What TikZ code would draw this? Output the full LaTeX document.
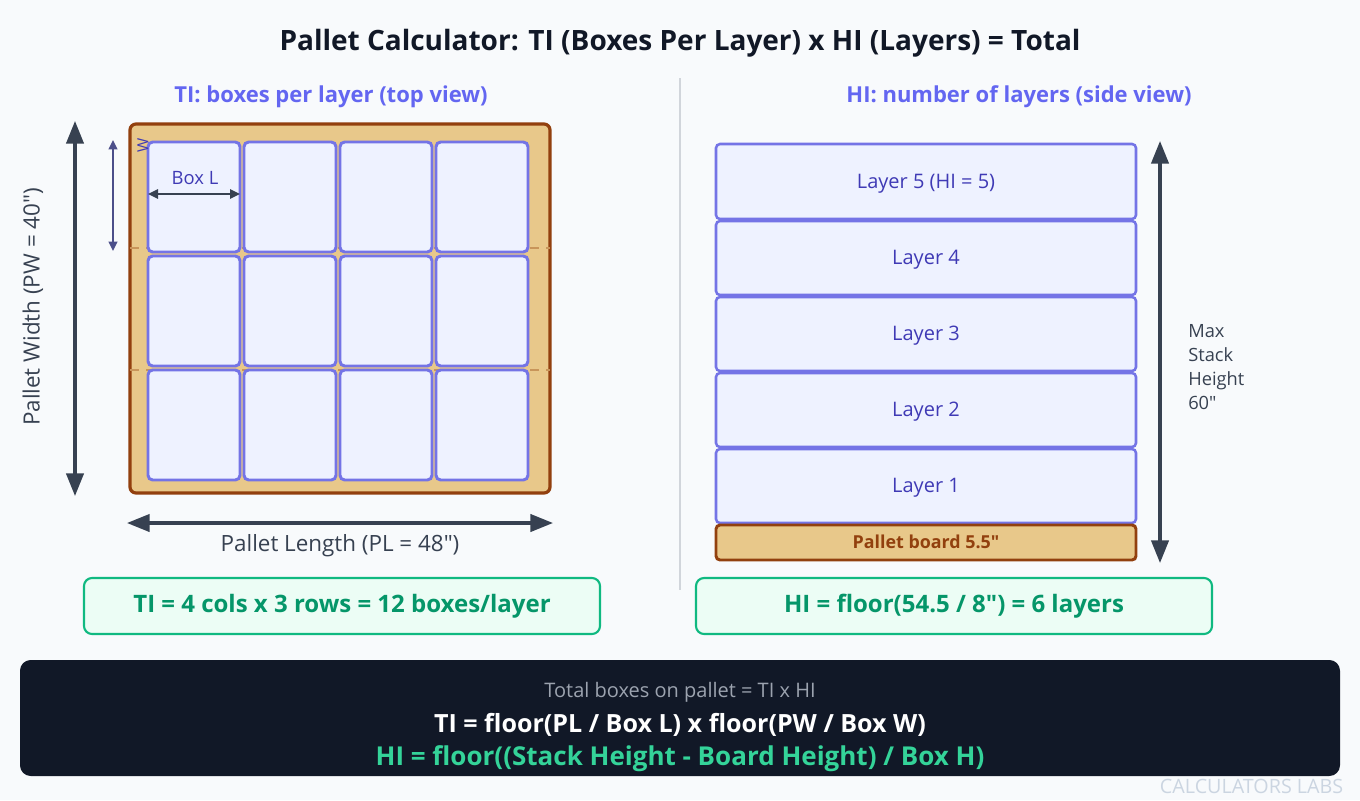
\documentclass[tikz,border=0pt]{standalone}
\usepackage{fontspec}
\setmainfont{Open Sans}[Ligatures=TeXOff]
\usetikzlibrary{arrows.meta}
\definecolor{bgc}{HTML}{F8FAFC}
\definecolor{titlec}{HTML}{111827}
\definecolor{indc}{HTML}{6366F1}
\definecolor{boxfill}{HTML}{EEF2FF}
\definecolor{boxline}{HTML}{7474E6}
\definecolor{laytxt}{HTML}{3F3AB5}
\definecolor{darkc}{HTML}{374151}
\definecolor{tanc}{HTML}{E8C88A}
\definecolor{brownc}{HTML}{92400E}
\definecolor{dashc}{HTML}{C8955A}
\definecolor{greenl}{HTML}{10B981}
\definecolor{greenf}{HTML}{ECFDF5}
\definecolor{greent}{HTML}{059669}
\definecolor{bannerc}{HTML}{111827}
\definecolor{grayt}{HTML}{9CA3AF}
\definecolor{greenb}{HTML}{34D399}
\definecolor{wmc}{HTML}{CBD5E1}
\definecolor{divc}{HTML}{D1D5DB}
\definecolor{wline}{HTML}{4C4F8A}
\newcommand{\fsz}[2]{\fontsize{#1}{#2}\selectfont}
\tikzset{
  boxcell/.style={draw=boxline, fill=boxfill, line width=2.2pt, rounded corners=3.5pt},
  palletrect/.style={draw=brownc, fill=tanc, line width=2.4pt, rounded corners=4.5pt},
  layerbox/.style={draw=boxline, fill=boxfill, line width=1.9pt, rounded corners=3pt},
  bigarrow/.style={draw=darkc, line width=2.4pt, {Triangle[length=17pt,width=13pt]}-{Triangle[length=17pt,width=13pt]}},
  smallarrow/.style={draw=darkc, line width=1.5pt, {Triangle[length=7.5pt,width=7pt]}-{Triangle[length=7.5pt,width=7pt]}},
  resbox/.style={draw=greenl, fill=greenf, line width=1.6pt, rounded corners=6pt},
  restext/.style={text=greent, font=\bfseries\fsz{18pt}{22pt}},
  laytext/.style={text=laytxt, font=\fsz{15pt}{18pt}},
  subt/.style={text=indc, font=\bfseries\fsz{16.5pt}{20pt}},
  dimtext/.style={text=darkc, font=\fsz{16.8pt}{20pt}},
}
\begin{document}
\begin{tikzpicture}[x=0.75pt,y=-0.75pt]
\useasboundingbox (0,0) rectangle (1360,800);
\fill[bgc] (0,0) rectangle (1360,800);

% title
\node (title) at (680,43) {\bfseries\fsz{21pt}{25pt}\color{titlec}Pallet Calculator: TI (Boxes Per Layer) x HI (Layers) = Total};
% divider
\coordinate (divtop) at (680,78);
\coordinate (divbot) at (680,590);
\draw[divc, line width=1pt] (divtop) -- (divbot);

% subtitles
\node[subt] (subl) at (331,97) {TI: boxes per layer (top view)};
\node[subt] (subr) at (1019,97) {HI: number of layers (side view)};

% pallet top view
\draw[palletrect] (130,124) rectangle (550,493);
\coordinate (d1a) at (130,248); \coordinate (d1b) at (550,248);
\coordinate (d2a) at (130,370); \coordinate (d2b) at (550,370);
\draw[dashc, line width=1.2pt, dash pattern=on 7pt off 5pt] (d1a) -- (d1b);
\draw[dashc, line width=1.2pt, dash pattern=on 7pt off 5pt] (d2a) -- (d2b);

\foreach \c/\x in {1/148,2/244,3/340,4/436}{
  \foreach \r/\y in {1/142,2/256,3/370}{
    \draw[boxcell] (\x,\y) rectangle ++(92,110);
  }
}

% W label and arrow
\node[text=laytxt, font=\fsz{11.5pt}{13pt}, rotate=90, inner sep=0pt] (wlab) at (143,145) {W};
\coordinate (wt) at (113,140); \coordinate (wb) at (113,251);
\draw[wline, line width=1.3pt, {Triangle[length=7pt,width=6.5pt]}-{Triangle[length=7pt,width=6.5pt]}] (wt) -- (wb);

% Box L
\coordinate (bla) at (148,194); \coordinate (blb) at (240,194);
\draw[smallarrow] (bla) -- (blb);
\node[text=laytxt, font=\fsz{13.8pt}{16pt}] (bll) at (195,178) {Box L};

% Pallet width
\coordinate (pwt) at (75,121); \coordinate (pwb) at (75,496);
\draw[bigarrow] (pwt) -- (pwb);
\node[dimtext, rotate=90] (pwl) at (33,307) {Pallet Width (PW = 40")};

% Pallet length
\coordinate (pla) at (127,523); \coordinate (plb) at (553,523);
\draw[bigarrow] (pla) -- (plb);
\node[dimtext] (pll) at (340,546) {Pallet Length (PL = 48")};

% results
\draw[resbox] (84,578) rectangle (600,634);
\node[restext] (tires) at (342,606) {TI = 4 cols x 3 rows = 12 boxes/layer};
\draw[resbox] (696,578) rectangle (1212,634);
\node[restext] (hires) at (954,606) {HI = floor(54.5 / 8") = 6 layers};

% layers
\draw[layerbox] (716,144) rectangle (1136,219);
\node[laytext] (l5) at (926,184) {Layer 5 (HI = 5)};
\draw[layerbox] (716,221) rectangle (1136,295);
\node[laytext] (l4) at (926,260) {Layer 4};
\draw[layerbox] (716,297) rectangle (1136,371);
\node[laytext] (l3) at (926,336) {Layer 3};
\draw[layerbox] (716,373) rectangle (1136,447);
\node[laytext] (l2) at (926,412) {Layer 2};
\draw[layerbox] (716,449) rectangle (1136,523);
\node[laytext] (l1) at (926,488) {Layer 1};
\draw[palletrect, line width=2.2pt, rounded corners=3pt] (716,525) rectangle (1136,560);
\node[text=brownc, font=\bfseries\fsz{13.4pt}{16pt}] (board) at (926,542) {Pallet board 5.5"};

% max stack
\coordinate (mst) at (1160,141); \coordinate (msb) at (1160,563);
\draw[bigarrow] (mst) -- (msb);
\node[text=darkc, font=\fsz{13.7pt}{18pt}, align=left, anchor=north west, inner sep=0pt] (msl) at (1188,324) {Max\\Stack\\Height\\60"};

% banner
\fill[bannerc, rounded corners=8pt] (20,660) rectangle (1340,776);
\node[text=grayt, font=\fsz{15pt}{18pt}] (b1) at (680,692) {Total boxes on pallet = TI x HI};
\node[text=white, font=\bfseries\fsz{18.8pt}{22pt}] (b2) at (680,725) {TI = floor(PL / Box L) x floor(PW / Box W)};
\node[text=greenb, font=\bfseries\fsz{19.5pt}{22pt}] (b3) at (680,759) {HI = floor((Stack Height - Board Height) / Box H)};

% watermark
\node[text=wmc, font=\fsz{14.8pt}{18pt}, anchor=east] (wm) at (1348,786) {CALCULATORS LABS};
\end{tikzpicture}
\end{document}
